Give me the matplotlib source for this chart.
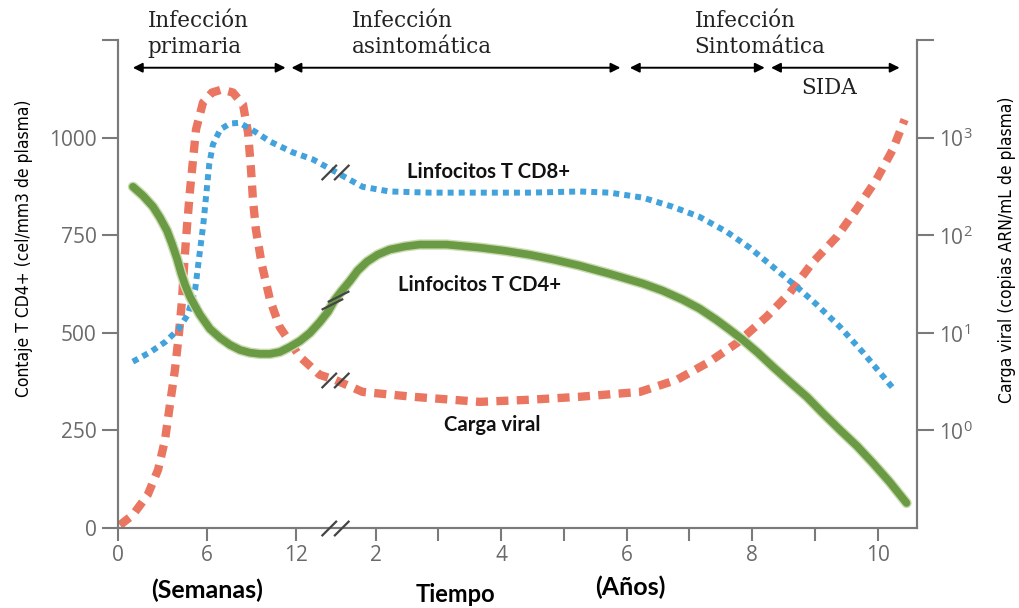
import numpy as np
import matplotlib.pyplot as plt
from matplotlib.path import Path
import matplotlib.patheffects as pe
from matplotlib.ticker import NullLocator

plt.rcParams['mathtext.fontset'] = 'custom'
plt.rcParams['mathtext.rm'] = 'Open Sans'

# eje de tiempo: primero semanas, despues de un corte, años
semanas_ticks = [0, 6, 12]
anos_ticks = [2, 3, 4, 5, 6, 7, 8, 9, 10]
anos_labels = ['2', '', '4', '', '6', '', '8', '', '10']

# Linfocitos T CD4+ (cel/mm3)
cd4_sem = [1.01, 1.69, 2.36, 2.83, 3.30, 3.64, 3.98, 4.25, 4.52, 4.86, 5.19, 5.53, 6.20,
           6.88, 7.55, 8.23, 8.90, 9.58, 10.25, 10.92, 11.60, 12.27, 12.95, 13.62, 14.16,
           14.63]
cd4_sem_val = [874, 851, 823, 795, 762, 728, 690, 654, 623, 592, 569, 546, 510,
               487, 469, 456, 449, 446, 446, 451, 464, 479, 500, 528, 554, 585]
cd4_anos = [1.35, 1.46, 1.59, 1.71, 1.86, 2.03, 2.22, 2.46, 2.70, 3.13, 3.66, 4.06, 4.45,
            4.85, 5.25, 5.73, 6.26, 6.57, 6.89, 7.16, 7.43, 7.64, 7.85, 8.09, 8.33, 8.60,
            8.87, 9.12, 9.40, 9.67, 9.92, 10.19, 10.46]
cd4_anos_val = [585, 608, 633, 659, 682, 700, 713, 721, 726, 726, 718, 710, 700,
                687, 672, 651, 626, 608, 585, 562, 533, 508, 482, 449, 413, 374,
                336, 295, 251, 210, 167, 118, 64]

# Linfocitos T CD8+ (cel/mm3)
cd8_sem = [1.0, 2.2, 3.2, 4.05, 4.7, 5.2, 5.45, 5.75, 5.95, 6.15, 6.4, 6.9, 7.55, 8.2,
           9.25, 10.25, 11.8, 13.15, 14.63]
cd8_sem_val = [426, 451, 477, 508, 546, 610, 687, 777, 854, 931, 982, 1021, 1036, 1038,
               1015, 990, 962, 944, 913]
cd8_anos = [1.35, 1.79, 2.22, 2.86, 3.66, 4.45, 5.25, 5.73, 6.26, 6.73, 7.16, 7.59, 7.96,
            8.33, 8.71, 9.03, 9.4, 9.77, 10.24]
cd8_anos_val = [913, 874, 862, 859, 859, 859, 862, 859, 846, 823, 797, 759, 718,
                669, 618, 572, 515, 449, 359]

# Carga viral (copias ARN/mL)
cv_sem = [0.13, 1.0, 2.0, 2.7, 3.17, 3.5, 3.84, 4.1, 4.32, 4.45, 4.65, 4.86, 5.06, 5.26,
          5.73, 6.34, 7.0, 7.75, 8.43, 8.77, 8.97, 9.1, 9.3, 9.7, 10.25, 10.9, 12.27,
          13.6, 14.63]
cv_sem_val = [0.107, 0.136, 0.218, 0.394, 0.8, 1.83, 4.18, 9.5, 21.8, 47.5, 122, 293, 595,
              1208, 2285, 2897, 3105, 2897, 2180, 1125, 470, 231, 114, 49.8, 21.8, 11.5,
              5.67, 3.71, 3.3]
cv_anos = [1.35, 1.79, 2.59, 3.66, 4.45, 5.25, 6.21, 6.8, 7.32, 7.76, 8.23, 8.6, 8.96,
           9.35, 9.66, 9.98, 10.24, 10.43]
cv_anos_val = [3.3, 2.48, 2.21, 1.96, 2.06, 2.21, 2.48, 3.3, 5.05, 7.89, 14.6, 25.7, 52.3,
               96.6, 183, 371, 753, 1531]

# fases de la infeccion (inicio, fin) y textos
fases = [(('s', 1.0), ('s', 11.3)),
         (('s', 11.7), ('a', 5.9)),
         (('a', 6.05), ('a', 8.2)),
         (('a', 8.3), ('a', 10.35))]
fases_texto = ['Infección\nprimaria', 'Infección\nasintomática', 'Infección\nSintomática']
fases_texto_x = [('s', 2.0), ('a', 1.62), ('a', 7.08)]

CORTE = 14.63      # posicion del corte en el eje
ANO_CORTE = 1.35   # año que cae en el corte
ESCALA_ANO = 4.231  # ancho de un año respecto a una semana


def pos_sem(w):
    return np.asarray(w, dtype=float)


def pos_ano(a):
    return CORTE + (np.asarray(a, dtype=float) - ANO_CORTE) * ESCALA_ANO


def pos(p):
    unidad, t = p
    return float(pos_sem(t)) if unidad == 's' else float(pos_ano(t))


gris = '#7a7a7a'
fig = plt.figure(figsize=(10.19, 6.08), dpi=100)
ax = fig.add_axes([0.1158, 0.1316, 0.7841, 0.8026])
ax2 = ax.twinx()
ax.set_zorder(ax2.get_zorder() + 1)
ax.patch.set_visible(False)

x_cd4 = np.concatenate([pos_sem(cd4_sem), pos_ano(cd4_anos)])
y_cd4 = np.concatenate([cd4_sem_val, cd4_anos_val])
x_cd8 = np.concatenate([pos_sem(cd8_sem), pos_ano(cd8_anos)])
y_cd8 = np.concatenate([cd8_sem_val, cd8_anos_val])
x_cv = np.concatenate([pos_sem(cv_sem), pos_ano(cv_anos)])
y_cv = np.concatenate([cv_sem_val, cv_anos_val])

ax2.plot(x_cv, y_cv, color='#e8664f', lw=6, alpha=0.9,
         linestyle=(0, (1.45, 1.0)), dash_capstyle='butt')
ax.plot(x_cd8, y_cd8, color='#42a2dc', lw=4.3,
        linestyle=(0, (1.0, 0.85)), dash_capstyle='butt')
ax.plot(x_cd4, y_cd4, color='#6b9a45', lw=5.5, solid_capstyle='round',
        solid_joinstyle='round',
        path_effects=[pe.Stroke(linewidth=7.5, foreground='#c9dbb0'), pe.Normal()])

# marcas de corte "//"
marca = Path([(-1, -0.55), (0.1, 0.55), (-0.1, -0.55), (1, 0.55)],
             [Path.MOVETO, Path.LINETO, Path.MOVETO, Path.LINETO])
marca_cd4 = Path([(-0.9, -0.6), (0.5, 0.1), (-0.5, -0.1), (0.9, 0.6)],
                 [Path.MOVETO, Path.LINETO, Path.MOVETO, Path.LINETO])
kw = dict(color='#444444', markeredgewidth=1.6, markersize=20, linestyle='none', clip_on=False)
ax.plot([CORTE], [0], marker=marca, zorder=5, **kw)
ax.plot([CORTE], [cd8_sem_val[-1]], marker=marca, zorder=5, **kw)
ax.plot([CORTE], [cd4_sem_val[-1]], marker=marca_cd4, zorder=5, **kw)
ax2.plot([CORTE], [cv_sem_val[-1]], marker=marca, zorder=5, **kw)

ax.set_xlim(0, 53.88)
ax.set_ylim(0, 1250)
ax2.set_yscale('log')
ax2.set_ylim(0.1, 1e4)

ax.set_xticks(list(pos_sem(semanas_ticks)) + list(pos_ano(anos_ticks)))
ax.set_xticklabels([str(s) for s in semanas_ticks] + anos_labels)
ax.set_yticks([0, 250, 500, 750, 1000, 1250])
ax.set_yticklabels(['0', '250', '500', '750', '1000', ''])
ax2.set_yticks([1, 10, 100, 1000, 10000])
ax2.set_yticklabels([r'$10^0$', r'$10^1$', r'$10^2$', r'$10^3$', ''])
ax2.yaxis.set_minor_locator(NullLocator())

for a in (ax, ax2):
    a.spines['top'].set_visible(False)
    for s in ('left', 'right', 'bottom'):
        a.spines[s].set_color(gris)
        a.spines[s].set_linewidth(1.5)
ax.tick_params(axis='y', direction='out', length=11.5, width=1.5, color=gris,
               labelcolor='#6a6a6a', labelsize=15, pad=4)
ax.tick_params(axis='x', direction='out', length=9.5, width=1.5, color=gris,
               labelcolor='#6a6a6a', labelsize=15, pad=3)
ax2.tick_params(axis='y', direction='out', length=12, width=1.5, color=gris,
                labelcolor='#6a6a6a', labelsize=15, pad=4)
for lab in ax.get_xticklabels() + ax.get_yticklabels():
    lab.set_family('Open Sans')

# flechas y nombres de las fases
for (ini, fin) in fases:
    ax.annotate('', xy=(pos(fin), 1179), xytext=(pos(ini), 1179),
                arrowprops=dict(arrowstyle='<|-|>', color='black', lw=1.4,
                                mutation_scale=14, shrinkA=0, shrinkB=0),
                annotation_clip=False)
for texto, px in zip(fases_texto, fases_texto_x):
    ax.text(pos(px), 1265, texto, family='DejaVu Serif', fontsize=15.5, color='#222222',
            ha='left', va='center', linespacing=1.2)
ax.text(pos_ano(9.22), 1128, 'SIDA', family='DejaVu Serif', fontsize=15.5,
        color='#222222', ha='center', va='center')

# nombres de las curvas
ax.text(pos_ano(3.79), 912, 'Linfocitos T CD8+', family='Lato', weight='bold',
        fontsize=14.6, ha='center', va='center', color='#111111')
ax.text(pos_ano(3.66), 623, 'Linfocitos T CD4+', family='Lato', weight='bold',
        fontsize=14.6, ha='center', va='center', color='#111111')
ax.text(pos_ano(3.85), 264, 'Carga viral', family='Lato', weight='bold',
        fontsize=14.6, ha='center', va='center', color='#111111')

fig.text(207 / 1019, 1 - 590 / 608, '(Semanas)', family='Lato', weight='bold',
         fontsize=18, ha='center', va='center')
fig.text(455 / 1019, 1 - 602 / 608, 'Tiempo', family='Lato', weight='bold',
         fontsize=17, ha='center', va='baseline')
fig.text(630 / 1019, 1 - 587 / 608, '(Años)', family='Lato', weight='bold',
         fontsize=18, ha='center', va='center')

fig.text(0.0235, 0.592, 'Contaje T CD4+ (cel/mm3 de plasma)', rotation=90,
         family='DejaVu Sans', fontstretch='condensed', fontsize=12.5,
         ha='center', va='center')
fig.text(0.988, 0.59, 'Carga viral (copias ARN/mL de plasma)', rotation=90,
         family='DejaVu Sans', fontstretch='condensed', fontsize=12.5,
         ha='center', va='center')

fig.savefig('out.png', dpi=100)
